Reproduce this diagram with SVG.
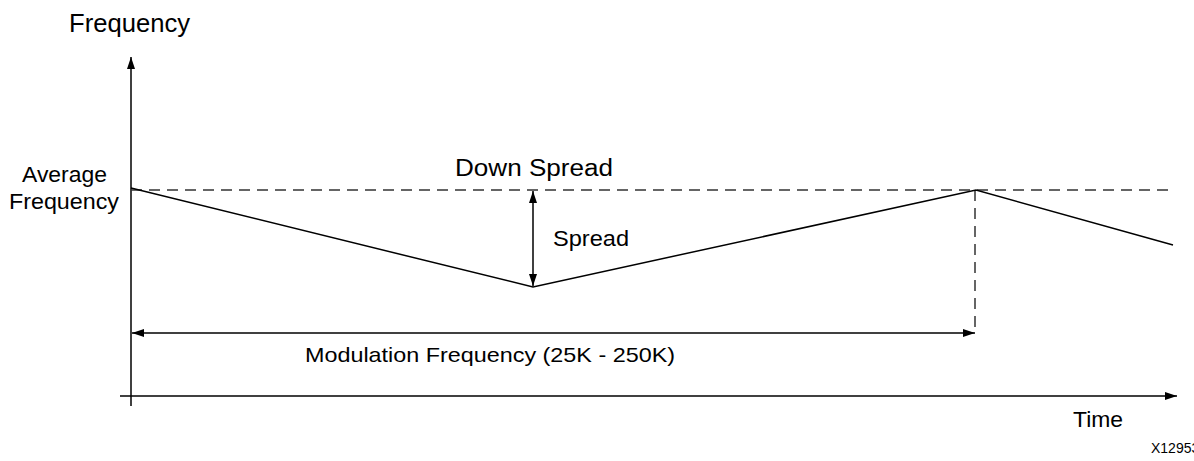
<svg xmlns="http://www.w3.org/2000/svg" width="1194" height="461" viewBox="0 0 1194 461">
<style>
text{font-family:"Liberation Sans",Arial,sans-serif;fill:#000}
.lbl{font-size:22px}
.ln{stroke:#000;stroke-width:1.5;fill:none}
.dash{stroke:#333;stroke-width:1.5;fill:none;stroke-dasharray:11 7}
</style>
<defs>
<marker id="ah" viewBox="0 0 12 8" refX="12" refY="4" markerWidth="12" markerHeight="8" markerUnits="userSpaceOnUse" orient="auto-start-reverse">
<path d="M0,0 L12,4 L0,8 z" fill="#000"/>
</marker>
</defs>
<rect width="1194" height="461" fill="#fff"/>
<g id="axes">
<line class="ln" x1="131" y1="406" x2="131" y2="57" marker-end="url(#ah)"/>
<line class="ln" x1="120" y1="396" x2="1177" y2="396" marker-end="url(#ah)"/>
</g>
<g id="connectors">
<line class="dash" x1="131" y1="190" x2="1174" y2="190"/>
<line class="dash" x1="975" y1="190" x2="975" y2="333"/>
<polyline class="ln" points="131,188 533,287 976,190 1173,245"/>
<line class="ln" x1="533" y1="191" x2="533" y2="286" marker-start="url(#ah)" marker-end="url(#ah)"/>
<line class="ln" x1="132" y1="333" x2="975" y2="333" marker-start="url(#ah)" marker-end="url(#ah)"/>
</g>
<g id="labels">
<text x="69" y="32" style="font-size:25px" textLength="121" lengthAdjust="spacingAndGlyphs">Frequency</text>
<text class="lbl" x="22" y="182" textLength="85" lengthAdjust="spacingAndGlyphs">Average</text>
<text class="lbl" x="9" y="209" textLength="110" lengthAdjust="spacingAndGlyphs">Frequency</text>
<text x="455" y="176" style="font-size:23px" textLength="158" lengthAdjust="spacingAndGlyphs">Down Spread</text>
<text class="lbl" x="553" y="246" textLength="76" lengthAdjust="spacingAndGlyphs">Spread</text>
<text x="305" y="362" style="font-size:21px" textLength="370" lengthAdjust="spacingAndGlyphs">Modulation Frequency (25K - 250K)</text>
<text class="lbl" x="1073" y="427" textLength="50" lengthAdjust="spacingAndGlyphs">Time</text>
<text x="1151" y="453" style="font-size:14px">X12953</text>
</g>
</svg>
